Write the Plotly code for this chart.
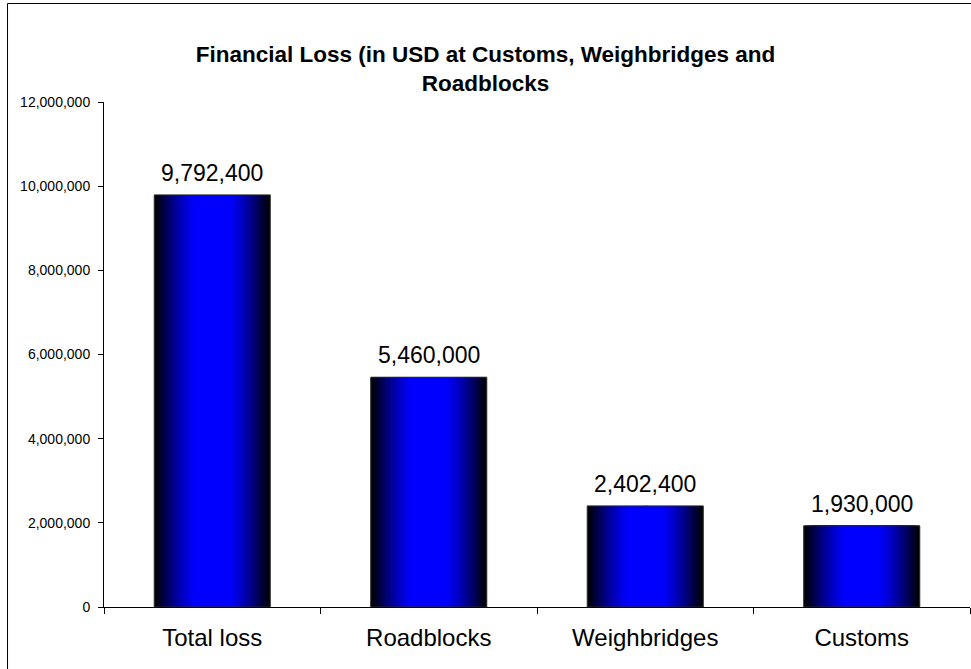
import plotly.graph_objects as go

# Financial loss by checkpoint type (USD)
categories = ["Total loss", "Roadblocks", "Weighbridges", "Customs"]
losses_usd = [9792400, 5460000, 2402400, 1930000]
y_tick_values = [0, 2000000, 4000000, 6000000, 8000000, 10000000, 12000000]

FONT = "Arial, 'Liberation Sans', sans-serif"
BAR_WIDTH = 0.536
LAYERS = 46


def blue_level(d):
    """Blue intensity for a band at normalised distance d from the bar centre."""
    if d <= 0.28:
        return 255
    t = min((d - 0.28) / 0.72, 1.0)
    return round(255 * (1 - t ** 1.3))


fig = go.Figure()

# Cylinder-like shading: nested bars, dark at the edges, bright blue in the middle
for i in range(LAYERS):
    frac = 1 - i / LAYERS
    b = blue_level(frac)
    fig.add_trace(go.Bar(
        x=categories,
        y=losses_usd,
        width=BAR_WIDTH * frac,
        marker=dict(color=f"rgb(0,0,{max(b, 8)})", line=dict(width=0)),
        hoverinfo="skip",
        showlegend=False,
    ))

# Outline on top of the shading
fig.add_trace(go.Bar(
    x=categories,
    y=losses_usd,
    width=BAR_WIDTH,
    marker=dict(color="rgba(0,0,0,0)", line=dict(color="#2a2a2a", width=1)),
    hovertemplate="%{x}: %{y:,}<extra></extra>",
    showlegend=False,
))

# Value labels above each bar
for cat, val in zip(categories, losses_usd):
    fig.add_annotation(
        x=cat, y=val, text=f"{val:,}",
        showarrow=False, yanchor="bottom", yshift=7,
        font=dict(family=FONT, size=23, color="#000"),
    )

# Frame around the chart
fig.add_shape(
    type="rect", xref="paper", yref="paper",
    x0=-0.1114, x1=1.01, y0=-0.2, y1=1.195,
    line=dict(color="#000", width=1), layer="below",
)

fig.update_layout(
    width=971, height=669, autosize=False,
    margin=dict(l=104, r=1, t=102, b=62),
    paper_bgcolor="white", plot_bgcolor="white",
    barmode="overlay",
    font=dict(family=FONT, color="#000"),
    title=dict(
        text="Financial Loss (in USD at Customs, Weighbridges and<br>Roadblocks",
        font=dict(family=FONT, size=22.5, weight="bold", color="#000"),
        x=0.5, xref="container", xanchor="center",
        y=1 - 62 / 669, yref="container", yanchor="middle",
    ),
    xaxis=dict(
        type="category", range=[-0.5, 3.5],
        showline=True, linecolor="#000", linewidth=1,
        ticks="outside", tickson="boundaries", ticklen=6, tickcolor="#000",
        tickfont=dict(family=FONT, size=24, color="#000"),
        ticklabelstandoff=9,
        showgrid=False, zeroline=False,
    ),
    yaxis=dict(
        range=[0, 12000000], tickvals=y_tick_values, tickformat=",d",
        showline=True, linecolor="#000", linewidth=1,
        ticks="outside", ticklen=5, tickcolor="#000",
        tickfont=dict(family=FONT, size=14, color="#000"),
        ticklabelstandoff=5,
        showgrid=False, zeroline=False,
    ),
)

fig.write_html("out.html")
